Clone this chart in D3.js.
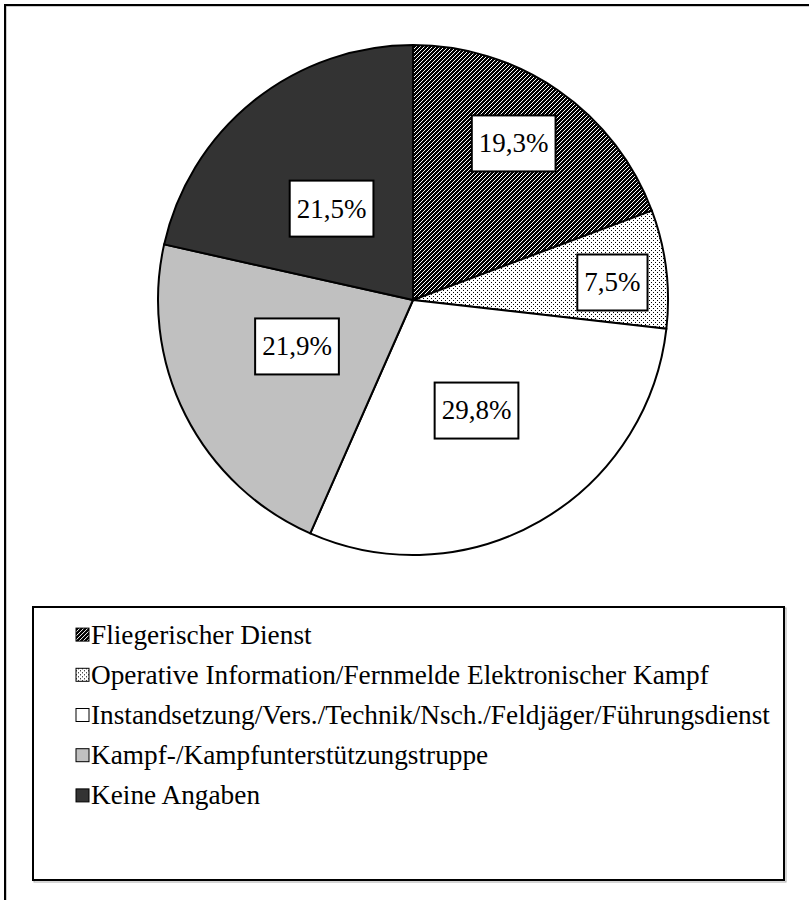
<!DOCTYPE html>
<html>
<head>
<meta charset="utf-8">
<script src="https://cdn.jsdelivr.net/npm/d3@7"></script>
<style>
  body { margin: 0; background: #fff; }
  svg text { font-family: "Liberation Serif", "Times New Roman", Times, serif; fill: #000; }
</style>
</head>
<body>
<svg id="chart" width="809" height="900"></svg>
<script>
// Waffengattung / Verwendungsbereich der Befragten
var categories = [
  "Fliegerischer Dienst",
  "Operative Information/Fernmelde Elektronischer Kampf",
  "Instandsetzung/Vers./Technik/Nsch./Feldjäger/Führungsdienst",
  "Kampf-/Kampfunterstützungstruppe",
  "Keine Angaben"
];
var shares = [19.3, 7.5, 29.8, 21.9, 21.5];
var shareLabels = ["19,3%", "7,5%", "29,8%", "21,9%", "21,5%"];

// Layout-Hilfen (keine Daten)
var fills = ["url(#pDiag)", "url(#pDots)", "#ffffff", "#c0c0c0", "#333333"];
var labelRadius = [0.73, 0.785, 0.50, 0.49, 0.48];
var labelTurn = [-2, 2, 0, 5, -3]; // Grad
var serif = "'Liberation Serif', 'Times New Roman', Times, serif";

var svg = d3.select("#chart");
var cx = 413, cy = 300, r = 255;

// Muster
var defs = svg.append("defs");
var pd = defs.append("pattern").attr("id", "pDiag")
    .attr("patternUnits", "userSpaceOnUse").attr("width", 4).attr("height", 4);
pd.append("rect").attr("width", 4).attr("height", 4).attr("fill", "#fff");
pd.append("path").attr("d", "M-1,1 L1,-1 M0,4 L4,0 M3,5 L5,3")
    .attr("stroke", "#000").attr("stroke-width", 1.8).attr("shape-rendering", "crispEdges");
var pt = defs.append("pattern").attr("id", "pDots")
    .attr("patternUnits", "userSpaceOnUse").attr("width", 4).attr("height", 4);
pt.append("rect").attr("width", 4).attr("height", 4).attr("fill", "#fff");
pt.append("rect").attr("x", 0).attr("y", 0).attr("width", 1).attr("height", 1).attr("fill", "#000");
pt.append("rect").attr("x", 2).attr("y", 2).attr("width", 1).attr("height", 1).attr("fill", "#000");

// Rahmen
svg.append("rect").attr("x", 6).attr("y", 6).attr("width", 820).attr("height", 920)
    .attr("fill", "none").attr("stroke", "#999").attr("stroke-width", 1);
svg.append("rect").attr("x", 5).attr("y", 5).attr("width", 820).attr("height", 920)
    .attr("fill", "none").attr("stroke", "#000").attr("stroke-width", 2);

// Torte
var pie = d3.pie().sort(null).value(function(d) { return d; });
var arcs = pie(shares);
var arc = d3.arc().innerRadius(0).outerRadius(r);

var g = svg.append("g").attr("transform", "translate(" + cx + "," + cy + ")");
g.selectAll("path.slice")
    .data(arcs)
    .enter().append("path")
    .attr("class", "slice")
    .attr("d", arc)
    .attr("fill", function(d, i) { return fills[i]; })
    .attr("stroke", "#000")
    .attr("stroke-width", 2)
    .attr("stroke-linejoin", "round");

// Beschriftungen
var lab = g.selectAll("g.lab")
    .data(arcs)
    .enter().append("g")
    .attr("class", "lab")
    .attr("transform", function(d, i) {
      var a = (d.startAngle + d.endAngle) / 2 + labelTurn[i] * Math.PI / 180;
      var rr = r * labelRadius[i];
      return "translate(" + (rr * Math.sin(a)) + "," + (-rr * Math.cos(a)) + ")";
    });
lab.append("rect");
lab.append("text")
    .attr("text-anchor", "middle")
    .attr("dy", "0.33em")
    .attr("font-family", serif)
    .style("font-size", "27px")
    .text(function(d, i) { return shareLabels[i]; });
lab.each(function() {
  var t = d3.select(this).select("text").node().getBBox();
  d3.select(this).select("rect")
      .attr("x", -t.width / 2 - 7).attr("y", -28)
      .attr("width", t.width + 14).attr("height", 56)
      .attr("fill", "#fff").attr("stroke", "#000").attr("stroke-width", 2);
});

// Legende
var lx = 33, ly = 607, lw = 751, lh = 273;
svg.append("rect").attr("x", lx + 1).attr("y", ly + 1).attr("width", lw + 1).attr("height", lh + 1)
    .attr("fill", "none").attr("stroke", "#aaa").attr("stroke-width", 1);
svg.append("rect").attr("x", lx).attr("y", ly).attr("width", lw).attr("height", lh)
    .attr("fill", "#fff").attr("stroke", "#000").attr("stroke-width", 2);

var rowY = d3.scaleBand().domain(categories).range([614, 815]);
var items = svg.selectAll("g.leg")
    .data(categories)
    .enter().append("g")
    .attr("class", "leg")
    .attr("transform", function(d) { return "translate(76," + (rowY(d) + rowY.bandwidth() / 2) + ")"; });
items.append("rect")
    .attr("x", 0).attr("y", -6).attr("width", 13).attr("height", 13)
    .attr("fill", function(d, i) { return fills[i]; })
    .attr("stroke", "#000").attr("stroke-width", 1);
items.append("text")
    .attr("x", 15).attr("dy", "0.35em")
    .attr("font-family", serif)
    .style("font-size", "27.3px")
    .text(function(d) { return d; });
</script>
</body>
</html>
